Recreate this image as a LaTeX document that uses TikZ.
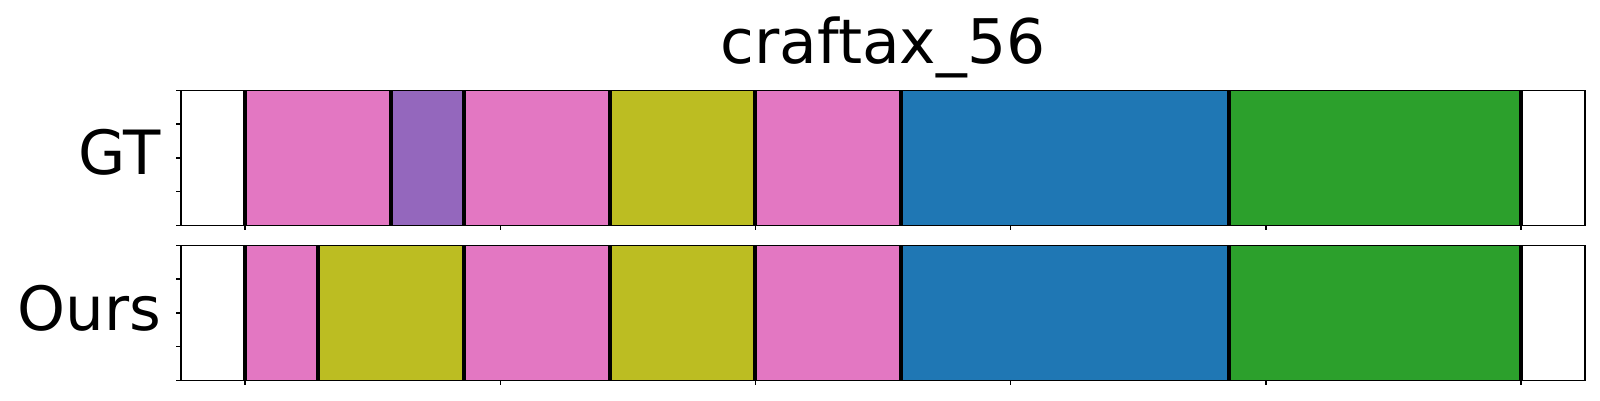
\documentclass[tikz,border=0pt]{standalone}
\usepackage{fontspec}
\setmainfont{DejaVu Sans}
\definecolor{tabpink}{HTML}{E377C2}
\definecolor{tabpurple}{HTML}{9467BD}
\definecolor{tabolive}{HTML}{BCBD22}
\definecolor{tabblue}{HTML}{1F77B4}
\definecolor{tabgreen}{HTML}{2CA02C}
\begin{document}
\begin{tikzpicture}[x=1pt, y=-1pt,
    cut/.style={line width=4pt},
    frame/.style={line width=1.6pt},
    tick/.style={line width=1.4pt},
    rowlabel/.style={anchor=base east, inner sep=0pt, font=\fontsize{61}{70}\selectfont}]
  \useasboundingbox (0,0) rectangle (1600,400);
  \node[anchor=base, inner sep=0pt, font=\fontsize{61.5}{70}\selectfont] (title) at (883,63.3) {craftax\_56};
  \node[rowlabel] (gt) at (161.3,174) {GT};
  \node[rowlabel] (ours) at (161.3,330) {Ours};
  % left ticks
  \draw[tick]
    (181.2,90.3) -- ++(-5,0) (181.2,124.05) -- ++(-5,0) (181.2,157.8) -- ++(-5,0)
    (181.2,191.55) -- ++(-5,0) (181.2,225.3) -- ++(-5,0)
    (181.2,245.3) -- ++(-5,0) (181.2,279.05) -- ++(-5,0) (181.2,312.8) -- ++(-5,0)
    (181.2,346.55) -- ++(-5,0) (181.2,380.3) -- ++(-5,0);
  \begin{scope}[shift={(245,0)}, x=36.457pt]
    \fill[tabpink]
      (0,90.3) rectangle (4,225.3) (6,90.3) rectangle (10,225.3) (14,90.3) rectangle (18,225.3)
      (0,245.3) rectangle (2,380.3) (6,245.3) rectangle (10,380.3) (14,245.3) rectangle (18,380.3);
    \fill[tabpurple] (4,90.3) rectangle (6,225.3);
    \fill[tabolive]
      (10,90.3) rectangle (14,225.3)
      (2,245.3) rectangle (6,380.3) (10,245.3) rectangle (14,380.3);
    \fill[tabblue] (18,90.3) rectangle (27,225.3) (18,245.3) rectangle (27,380.3);
    \fill[tabgreen] (27,90.3) rectangle (35,225.3) (27,245.3) rectangle (35,380.3);
    \draw[cut]
      (0,90.3) -- (0,225.3) (4,90.3) -- (4,225.3) (6,90.3) -- (6,225.3) (10,90.3) -- (10,225.3)
      (14,90.3) -- (14,225.3) (18,90.3) -- (18,225.3) (27,90.3) -- (27,225.3) (35,90.3) -- (35,225.3)
      (0,245.3) -- (0,380.3) (2,245.3) -- (2,380.3) (6,245.3) -- (6,380.3) (10,245.3) -- (10,380.3)
      (14,245.3) -- (14,380.3) (18,245.3) -- (18,380.3) (27,245.3) -- (27,380.3) (35,245.3) -- (35,380.3);
    \draw[frame] (-1.75,90.3) rectangle (36.75,225.3) (-1.75,245.3) rectangle (36.75,380.3);
    % bottom ticks
    \draw[tick]
      (0,225.3) -- ++(0,5) (7,225.3) -- ++(0,5) (14,225.3) -- ++(0,5)
      (21,225.3) -- ++(0,5) (28,225.3) -- ++(0,5) (35,225.3) -- ++(0,5)
      (0,380.3) -- ++(0,5) (7,380.3) -- ++(0,5) (14,380.3) -- ++(0,5)
      (21,380.3) -- ++(0,5) (28,380.3) -- ++(0,5) (35,380.3) -- ++(0,5);
  \end{scope}
\end{tikzpicture}
\end{document}
